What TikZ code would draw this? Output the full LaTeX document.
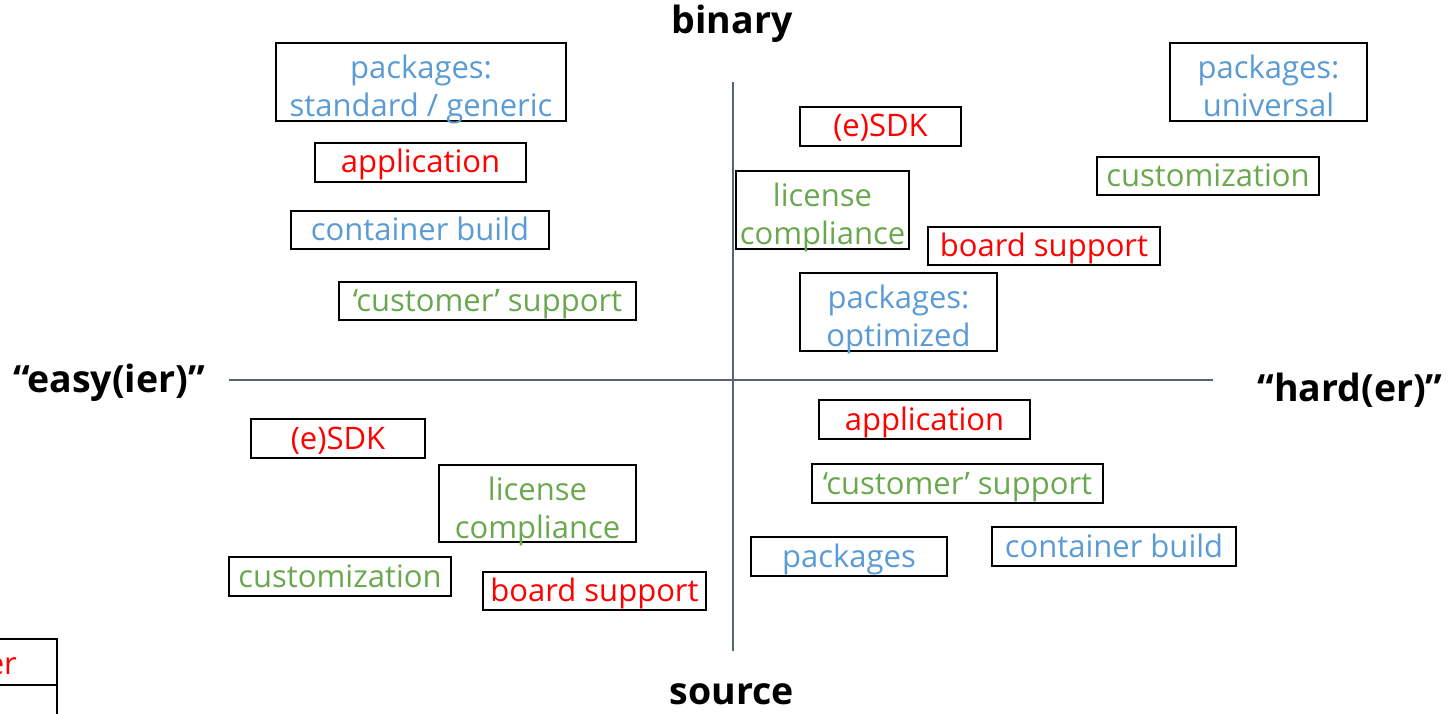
\documentclass[tikz,border=0pt]{standalone}
\usepackage{fontspec}
\setmainfont{Open Sans}
\definecolor{pblue}{HTML}{5B9BD5}
\definecolor{pgreen}{HTML}{6AA84F}
\definecolor{pred}{HTML}{FF0000}
\definecolor{axisgray}{HTML}{5A6478}
\newcommand{\topstrut}{\rule{0pt}{29pt}}
\newcommand{\botstrut}{\rule[-8pt]{0pt}{0pt}}
% two stacked lines; smashed so the box keeps its own size
\newcommand{\twolines}[2]{\smash{\begin{tabular}{@{}c@{}}\rule{0pt}{34pt}#1\\#2\end{tabular}}}
\tikzset{
  x=1pt, y=-1pt,
  tagfont/.style={font=\fontsize{31}{38}\selectfont},
  tag/.style={draw=black, line width=1.6pt, inner sep=0pt, align=center, tagfont,
    execute at begin node=\topstrut, execute at end node=\botstrut},
  bluetag/.style={tag, text=pblue},
  greentag/.style={tag, text=pgreen},
  redtag/.style={tag, text=pred},
  axislabel/.style={font=\fontsize{37.5}{42}\selectfont\bfseries, text=black},
  axisline/.style={draw=axisgray, line width=1.6pt}
}
\begin{document}
\begin{tikzpicture}
\useasboundingbox (0,0) rectangle (1451,714);
\clip (0,0) rectangle (1451,714);

% axes
\coordinate (xl) at (229,380);
\coordinate (xr) at (1213,380);
\coordinate (yt) at (733,82);
\coordinate (yb) at (733,651);
\draw[axisline] (xl) -- (xr);
\draw[axisline] (yt) -- (yb);

% axis labels
\node[axislabel] (binary) at (732,24) {binary};
\node[axislabel] (source) at (732,694) {source};
\node[axislabel] (easy) at (109,383) {“easy(ier)”};
\node[axislabel] (hard) at (1350,390) {“hard(er)”};

% binary / easier
\node[bluetag, minimum width=290, minimum height=78] (pkgstd) at (421,82) {\twolines{packages:}{standard / generic}};
\node[redtag, minimum width=211, minimum height=39] (app1) at (420.5,162.5) {application};
\node[bluetag, minimum width=258, minimum height=38] (cont1) at (420,230) {container build};
\node[greentag, minimum width=297, minimum height=38] (cust1) at (487.5,301) {‘customer’ support};

% binary / harder
\node[redtag, minimum width=161, minimum height=39] (sdk1) at (880.5,126.5) {(e)SDK};
\node[greentag, minimum width=173, minimum height=78] (lic1) at (822.5,210) {\twolines{license}{compliance}};
\node[redtag, minimum width=232, minimum height=38] (board1) at (1044,246) {board support};
\node[bluetag, minimum width=197, minimum height=78] (pkgopt) at (898.5,312) {\twolines{packages:}{optimized}};
\node[bluetag, minimum width=197, minimum height=78] (pkguni) at (1268.5,82) {\twolines{packages:}{universal}};
\node[greentag, minimum width=222, minimum height=38] (custz1) at (1208,176) {customization};

% source / easier
\node[redtag, minimum width=174, minimum height=39] (sdk2) at (338,438.5) {(e)SDK};
\node[greentag, minimum width=197, minimum height=77] (lic2) at (537.5,503.5) {\twolines{license}{compliance}};
\node[greentag, minimum width=222, minimum height=39] (custz2) at (340,576.5) {customization};
\node[redtag, minimum width=223, minimum height=38] (board2) at (594.5,591) {board support};

% source / harder
\node[redtag, minimum width=211, minimum height=39] (app2) at (924.5,419.5) {application};
\node[greentag, minimum width=291, minimum height=39] (cust2) at (957.5,483.5) {‘customer’ support};
\node[bluetag, minimum width=196, minimum height=39] (pkgs) at (849,556.5) {packages};
\node[bluetag, minimum width=244, minimum height=39] (cont2) at (1114,546.5) {container build};

% boxes cut by the left edge
\node[tag, minimum width=200, minimum height=46] (edge1) at (-43,662) {};
\node[text=pred, tagfont, inner sep=0pt, anchor=base east] (edge1text) at (17,674) {er};
\node[tag, minimum width=200, minimum height=70] (edge2) at (-43,720) {};
\end{tikzpicture}
\end{document}
